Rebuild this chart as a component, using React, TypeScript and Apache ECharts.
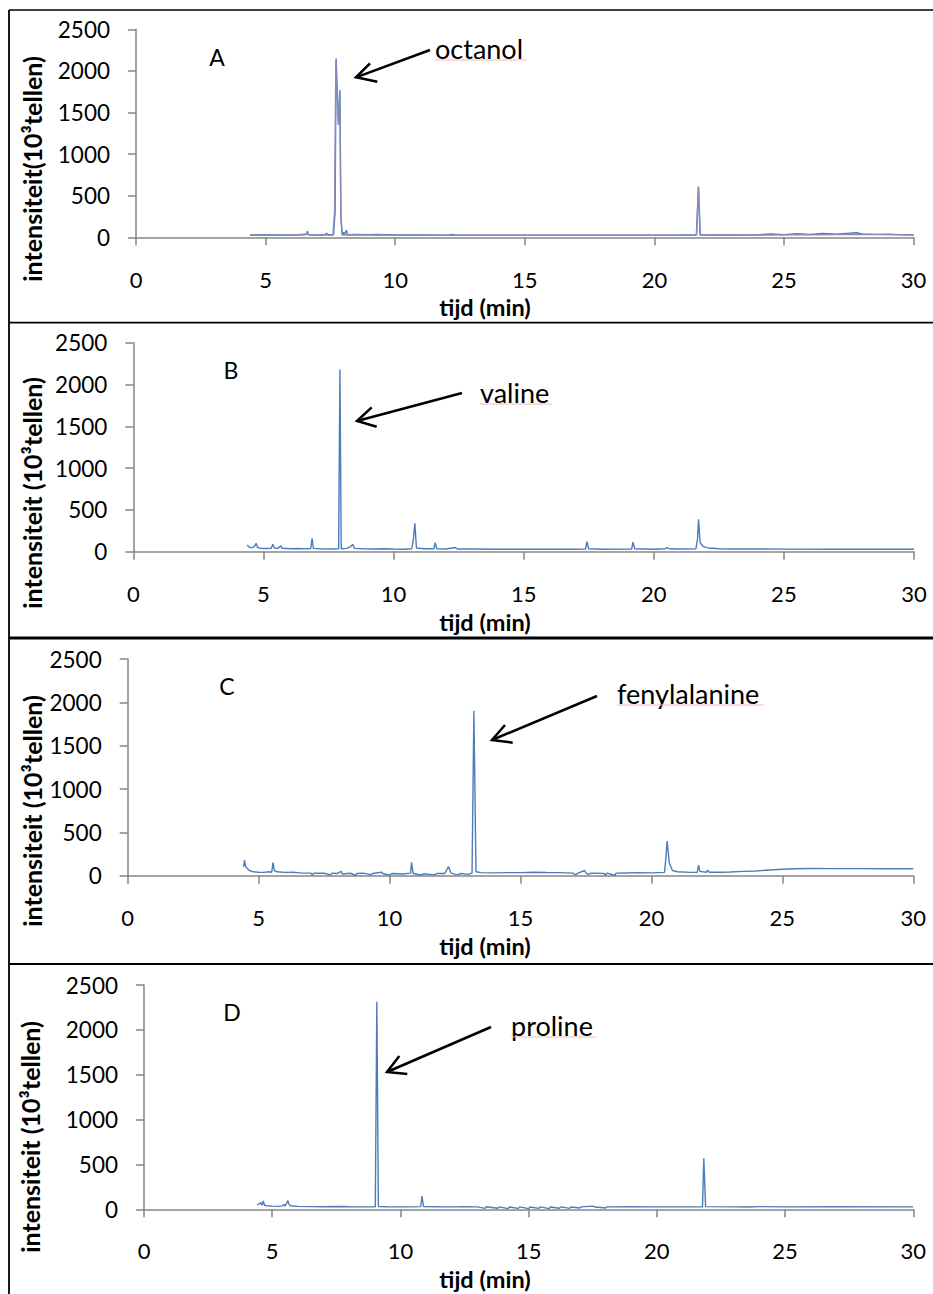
import React, { useEffect, useRef } from "react";
import * as echarts from "echarts";

// ---------- data (time in min, intensity in 10^3 counts) ----------
const xTicks = [0, 5, 10, 15, 20, 25, 30];
const yTicks = [0, 500, 1000, 1500, 2000, 2500];
const panelLetters = ["A", "B", "C", "D"];
const compounds = ["octanol", "valine", "fenylalanine", "proline"];
const yTitles = [
  "intensiteit(10³tellen)",
  "intensiteit (10³tellen)",
  "intensiteit (10³tellen)",
  "intensiteit (10³tellen)",
];
const xTitle = "tijd (min)";

const chromA: [number, number][] = [
  [4.4, 28], [5.0, 30], [5.5, 27], [6.0, 28], [6.5, 30], [6.58, 32], [6.61, 75], [6.65, 30],
  [7.0, 28], [7.3, 33], [7.35, 50], [7.4, 30], [7.62, 30], [7.68, 300], [7.72, 2150],
  [7.78, 1650], [7.82, 1370], [7.87, 1770], [7.9, 300], [7.95, 30], [8.0, 60], [8.04, 35],
  [8.12, 85], [8.16, 30], [8.5, 35], [9.0, 30], [9.3, 33], [10, 28], [11, 27], [12, 25],
  [12.2, 35], [12.3, 25], [13, 25], [14, 26], [15, 25], [16, 25], [17, 25], [18, 25],
  [19, 25], [20, 26], [21, 27], [21.62, 30], [21.7, 610], [21.77, 30], [22, 28], [23, 27],
  [24, 30], [24.5, 40], [25, 32], [25.5, 42], [26, 35], [26.5, 45], [27, 38], [27.5, 48],
  [27.8, 55], [28, 40], [28.5, 35], [29, 38], [29.5, 32], [30, 30],
];
const chromA2: [number, number][] = [
  [4.4, 25], [5.0, 26], [6.0, 26], [6.6, 40], [6.7, 26], [7.6, 27], [7.66, 300],
  [7.71, 2120], [7.8, 1350], [7.86, 1740], [7.91, 200], [7.96, 27], [8.5, 28], [10, 26],
  [12, 25], [15, 25], [18, 25], [21, 25], [21.63, 28], [21.7, 600], [21.76, 28], [24, 27],
  [26, 30], [28, 35], [30, 28],
];
const chromB: [number, number][] = [
  [4.38, 80], [4.45, 55], [4.55, 45], [4.65, 60], [4.72, 100], [4.78, 50], [4.9, 40],
  [5.1, 38], [5.3, 40], [5.36, 88], [5.42, 45], [5.55, 40], [5.67, 70], [5.72, 40],
  [5.9, 38], [6.1, 35], [6.3, 38], [6.5, 35], [6.82, 38], [6.87, 160], [6.92, 40],
  [7.2, 35], [7.6, 33], [7.89, 35], [7.94, 2180], [7.99, 35], [8.2, 40], [8.35, 60],
  [8.43, 88], [8.5, 40], [8.8, 35], [9.2, 33], [9.6, 35], [10, 32], [10.4, 30], [10.7, 35],
  [10.76, 140], [10.82, 340], [10.88, 45], [11.2, 35], [11.55, 35], [11.6, 108],
  [11.66, 35], [12, 33], [12.38, 50], [12.45, 33], [13, 32], [14, 30], [15, 30], [16, 30],
  [17, 30], [17.38, 32], [17.43, 120], [17.5, 35], [18, 30], [19.15, 32], [19.2, 113],
  [19.27, 35], [20, 30], [20.45, 35], [20.5, 50], [20.6, 35], [21, 33], [21.62, 35],
  [21.68, 150], [21.72, 387], [21.78, 110], [21.9, 60], [22.1, 45], [22.5, 36], [23, 33],
  [25, 31], [27, 30], [30, 30],
];
const chromC: [number, number][] = [
  [4.43, 100], [4.46, 181], [4.5, 110], [4.55, 90], [4.65, 60], [4.8, 45], [5.0, 40],
  [5.2, 38], [5.4, 45], [5.5, 40], [5.55, 150], [5.6, 60], [5.7, 45], [6.0, 38], [6.3, 40],
  [6.6, 32], [7.0, 30], [7.05, 5], [7.1, 30], [7.5, 28], [7.75, 10], [7.8, 30], [8.0, 25],
  [8.15, 50], [8.2, 20], [8.5, 28], [8.7, 5], [8.75, 25], [9.0, 30], [9.3, 10], [9.35, 25],
  [9.7, 40], [9.75, 22], [10.0, 10], [10.1, 25], [10.5, 20], [10.8, 30], [10.84, 155],
  [10.9, 25], [11.2, 8], [11.3, 22], [11.7, 10], [11.8, 25], [12.1, 25], [12.25, 104],
  [12.35, 30], [12.6, 10], [12.7, 25], [13.0, 15], [13.15, 30], [13.22, 1903], [13.3, 45],
  [13.5, 35], [14, 33], [14.5, 35], [15, 36], [15.5, 40], [16, 37], [16.5, 35], [17.0, 30],
  [17.1, 10], [17.2, 30], [17.45, 60], [17.5, 30], [17.6, 15], [17.7, 30], [18.2, 25],
  [18.25, 5], [18.3, 30], [18.6, 5], [18.65, 30], [19, 32], [19.5, 35], [20, 33],
  [20.5, 38], [20.55, 200], [20.6, 400], [20.68, 150], [20.8, 60], [21.0, 45], [21.5, 38],
  [21.75, 40], [21.8, 123], [21.85, 50], [22.1, 40], [22.15, 65], [22.2, 40], [22.6, 40],
  [23, 42], [23.5, 50], [24, 55], [24.5, 65], [25, 75], [25.5, 80], [26, 83], [27, 82],
  [28, 82], [29, 81], [30, 80],
];
const chromD: [number, number][] = [
  [4.41, 50], [4.5, 60], [4.55, 75], [4.6, 45], [4.65, 92], [4.7, 45], [4.8, 40], [5.0, 35],
  [5.2, 33], [5.4, 38], [5.45, 55], [5.5, 35], [5.61, 96], [5.65, 60], [5.7, 40], [6.0, 33],
  [6.5, 30], [7, 28], [7.5, 32], [8, 28], [8.5, 27], [9.02, 28], [9.08, 2314], [9.14, 30],
  [9.5, 28], [10, 27], [10.5, 27], [10.79, 30], [10.84, 148], [10.9, 30], [11.5, 28],
  [12, 27], [12.5, 28], [13, 27], [13.3, 10], [13.35, 28], [13.8, 12], [13.85, 27],
  [14.2, 8], [14.25, 26], [14.6, 10], [14.65, 27], [15.0, 8], [15.05, 26], [15.4, 10],
  [15.45, 27], [15.8, 8], [15.85, 26], [16.2, 12], [16.25, 27], [16.6, 10], [16.65, 26],
  [17.0, 14], [17.05, 27], [17.5, 35], [17.6, 26], [18, 15], [18.05, 27], [19, 28],
  [20, 27], [21, 27], [21.78, 28], [21.83, 568], [21.9, 30], [23, 27], [23.5, 25],
  [24, 30], [25, 27], [27, 28], [30, 27],
];

const FONT = "Lato";
const BLUE = "#4a7ebb";
const AXIS_GREY = "#868686";

const grids = [
  { left: 136, top: 29.3, width: 777.6, height: 208 },
  { left: 133.3, top: 342.7, width: 780.7, height: 209 },
  { left: 127.7, top: 659, width: 785.6, height: 216.7 },
  { left: 144, top: 985, width: 769.3, height: 224.3 },
];
const xLabelMargin = [33, 33, 33, 32];
const yTitlePos = [
  { x: 32, y: 169 },
  { x: 32, y: 493 },
  { x: 32, y: 811 },
  { x: 30, y: 1137 },
];
const xTitleY = [307, 622, 946, 1279];
const letterPos = [
  { x: 217, y: 57 },
  { x: 231, y: 370 },
  { x: 227, y: 686 },
  { x: 232, y: 1012 },
];
const compoundPos = [
  { x: 435, y: 48, w: 91 },
  { x: 480, y: 392, w: 72 },
  { x: 617, y: 693, w: 147 },
  { x: 511, y: 1025, w: 85 },
];
const arrows = [
  { tail: [430, 50], head: [356, 77.3], w1: [370, 63.3], w2: [377.3, 81.7] },
  { tail: [462, 393], head: [357, 421], w1: [371.7, 407.3], w2: [376.7, 426.7] },
  { tail: [597, 696], head: [492, 740], w1: [505, 725], w2: [512.7, 742.7] },
  { tail: [491, 1027], head: [387, 1072], w1: [399.3, 1056], w2: [407.3, 1074] },
];

function App() {
  const ref = useRef<HTMLDivElement>(null);
  useEffect(() => {
    if (!ref.current) return;
    const chart = echarts.init(ref.current, null, { renderer: "svg" });
    const axisCommon = {
      axisLine: { show: true, lineStyle: { color: AXIS_GREY, width: 1.5 } },
      axisTick: { show: true, length: 8, lineStyle: { color: AXIS_GREY, width: 1.5 } },
      splitLine: { show: false },
    };
    const plain = (v: number) => String(v);
    const xAxis = grids.map((_, i) => ({
      type: "value",
      gridIndex: i,
      min: xTicks[0],
      max: xTicks[xTicks.length - 1],
      interval: xTicks[1] - xTicks[0],
      ...axisCommon,
      axisLabel: {
        fontFamily: FONT,
        fontSize: 22,
        lineHeight: 18,
        color: "#000",
        margin: xLabelMargin[i],
        formatter: plain,
      },
    }));
    const yAxis = grids.map((_, i) => ({
      type: "value",
      gridIndex: i,
      min: yTicks[0],
      max: yTicks[yTicks.length - 1],
      interval: yTicks[1] - yTicks[0],
      ...axisCommon,
      axisLabel: {
        fontFamily: FONT,
        fontSize: 22.5,
        lineHeight: 18,
        color: "#000",
        margin: 26,
        formatter: plain,
      },
    }));
    const lineSeries = (data: [number, number][], idx: number, color: string, name: string) => ({
      type: "line",
      name,
      xAxisIndex: idx,
      yAxisIndex: idx,
      data,
      showSymbol: false,
      symbol: "none",
      lineStyle: { color, width: 1.4 },
      z: 3,
    });
    const series = [
      lineSeries(chromA, 0, BLUE, "A"),
      lineSeries(chromA2, 0, "#8a8cb8", "A2"),
      lineSeries(chromB, 1, BLUE, "B"),
      lineSeries(chromC, 2, BLUE, "C"),
      lineSeries(chromD, 3, BLUE, "D"),
    ];

    const graphic: any[] = [];
    const frame = [
      { x1: 9, y1: 10, x2: 933, y2: 10, w: 1.5 },
      { x1: 9, y1: 10, x2: 9, y2: 1294, w: 1.8 },
      { x1: 9, y1: 322.7, x2: 933, y2: 322.7, w: 1.8 },
      { x1: 9, y1: 638, x2: 933, y2: 638, w: 3 },
      { x1: 9, y1: 964, x2: 933, y2: 964, w: 1.8 },
    ];
    frame.forEach((f) =>
      graphic.push({
        type: "line",
        shape: { x1: f.x1, y1: f.y1, x2: f.x2, y2: f.y2 },
        style: { stroke: "#000", lineWidth: f.w },
        silent: true,
      })
    );
    for (let i = 0; i < 4; i++) {
      graphic.push({
        type: "text",
        x: yTitlePos[i].x,
        y: yTitlePos[i].y,
        rotation: Math.PI / 2,
        style: {
          text: yTitles[i],
          fontFamily: FONT,
          fontWeight: "bold",
          fontSize: 25,
          lineHeight: 22,
          fill: "#000",
          align: "center",
          verticalAlign: "middle",
        },
      });
      graphic.push({
        type: "text",
        x: 485,
        y: xTitleY[i],
        style: {
          text: xTitle,
          fontFamily: FONT,
          fontWeight: "bold",
          fontSize: 23.5,
          lineHeight: 22,
          fill: "#000",
          align: "center",
          verticalAlign: "middle",
        },
      });
      graphic.push({
        type: "text",
        x: letterPos[i].x,
        y: letterPos[i].y,
        style: {
          text: panelLetters[i],
          fontFamily: FONT,
          fontSize: 23,
          fill: "#000",
          align: "center",
          verticalAlign: "middle",
        },
      });
      graphic.push({
        type: "text",
        x: compoundPos[i].x,
        y: compoundPos[i].y,
        style: {
          text: compounds[i],
          fontFamily: FONT,
          fontSize: 27,
          fill: "#000",
          align: "left",
          verticalAlign: "middle",
        },
      });
      graphic.push({
        type: "line",
        shape: {
          x1: compoundPos[i].x,
          y1: compoundPos[i].y + 12,
          x2: compoundPos[i].x + compoundPos[i].w,
          y2: compoundPos[i].y + 12,
        },
        style: { stroke: "#f2b8b8", lineWidth: 1 },
        silent: true,
      });
      const a = arrows[i];
      graphic.push({
        type: "line",
        shape: { x1: a.tail[0], y1: a.tail[1], x2: a.head[0], y2: a.head[1] },
        style: { stroke: "#000", lineWidth: 2.5 },
      });
      graphic.push({
        type: "polyline",
        shape: { points: [a.w1, a.head, a.w2] },
        style: { stroke: "#000", lineWidth: 2.5, fill: null },
      });
    }

    chart.setOption({
      animation: false,
      backgroundColor: "#fff",
      grid: grids.map((g) => ({ ...g, containLabel: false })),
      xAxis,
      yAxis,
      series,
      graphic,
    });
    return () => chart.dispose();
  }, []);
  return (
    <div
      ref={ref}
      style={{ position: "absolute", left: 0, top: 0, width: 933, height: 1294, background: "#fff" }}
    />
  );
}

export default App;
